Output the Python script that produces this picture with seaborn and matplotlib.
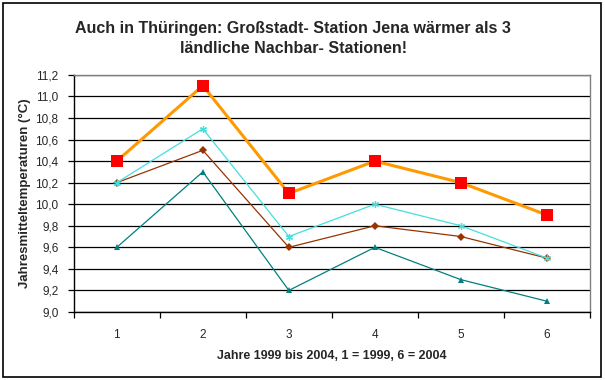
import pandas as pd
import matplotlib
matplotlib.use('Agg')
import matplotlib.pyplot as plt
import seaborn as sns
from matplotlib.patches import Rectangle
from matplotlib.ticker import FuncFormatter, MultipleLocator

# Werte
jahre = [1, 2, 3, 4, 5, 6]
jena = [10.4, 11.1, 10.1, 10.4, 10.2, 9.9]
station_a = [10.2, 10.7, 9.7, 10.0, 9.8, 9.5]   # hellblau
station_b = [10.2, 10.5, 9.6, 9.8, 9.7, 9.5]    # braun
station_c = [9.6, 10.3, 9.2, 9.6, 9.3, 9.1]     # petrol

sns.set_style('white')
plt.rcParams['font.family'] = ['Liberation Sans', 'DejaVu Sans']

fig = plt.figure(figsize=(6.05, 3.8), dpi=100)
ax = fig.add_axes([0.122, 0.179, 0.853, 0.624])

# Rahmen um die ganze Grafik
fig.patches.append(Rectangle((0.005, 0.008), 0.988, 0.984, transform=fig.transFigure,
                             fill=False, edgecolor='black', linewidth=1.2))

ax.yaxis.grid(True, color='black', linewidth=0.9)
ax.set_axisbelow(True)

sns.lineplot(x=jahre, y=station_c, ax=ax, color='#008080', linewidth=0.9,
             marker='^', markersize=5, markeredgewidth=0, zorder=3)
sns.lineplot(x=jahre, y=station_b, ax=ax, color='#993300', linewidth=0.9,
             marker='D', markersize=3.8, markeredgewidth=0, zorder=4)
sns.lineplot(x=jahre, y=station_a, ax=ax, color='#45DEDE', linewidth=0.9,
             marker=(6, 2, 0), markersize=5, markeredgewidth=0.9,
             markeredgecolor='#45DEDE', zorder=5)
sns.lineplot(x=jahre, y=jena, ax=ax, color='#FF9900', linewidth=2.2, zorder=6)
sns.scatterplot(x=jahre, y=jena, ax=ax, color='#FF0000', marker='s', s=70,
                linewidth=0, zorder=7)

ax.set_xlim(0.5, 6.5)
ax.set_ylim(9.0, 11.2)
ax.yaxis.set_major_locator(MultipleLocator(0.2))
ax.yaxis.set_major_formatter(FuncFormatter(lambda v, p: f'{v:.1f}'.replace('.', ',')))

ax.set_xticks([x + 0.5 for x in [0] + jahre])
ax.set_xticklabels([])
ax.set_xticks(jahre, minor=True)
ax.set_xticklabels([str(j) for j in jahre], minor=True)
ax.tick_params(axis='x', which='major', direction='out', length=4, width=0.9, color='black')
ax.tick_params(axis='x', which='minor', length=0, pad=12, labelsize=8.5)
ax.tick_params(axis='y', direction='out', length=4, width=0.9, color='black', labelsize=8.5, pad=7)
ax.tick_params(left=True, bottom=True)

for s in ['top', 'right']:
    ax.spines[s].set_color('#808080')
    ax.spines[s].set_linewidth(1.0)
for s in ['left', 'bottom']:
    ax.spines[s].set_color('black')
    ax.spines[s].set_linewidth(1.0)

ax.set_xlabel('Jahre 1999 bis 2004, 1 = 1999, 6 = 2004', fontsize=9, fontweight='bold', labelpad=7)
ax.set_ylabel('Jahresmitteltemperaturen (°C)', fontsize=9.5, fontweight='bold', labelpad=3)

fig.text(0.485, 0.899, 'Auch in Thüringen: Großstadt- Station Jena wärmer als 3\nländliche Nachbar- Stationen!',
         ha='center', va='center', fontsize=11.5, fontweight='bold', linespacing=1.4)

fig.savefig('out.png', dpi=100)
